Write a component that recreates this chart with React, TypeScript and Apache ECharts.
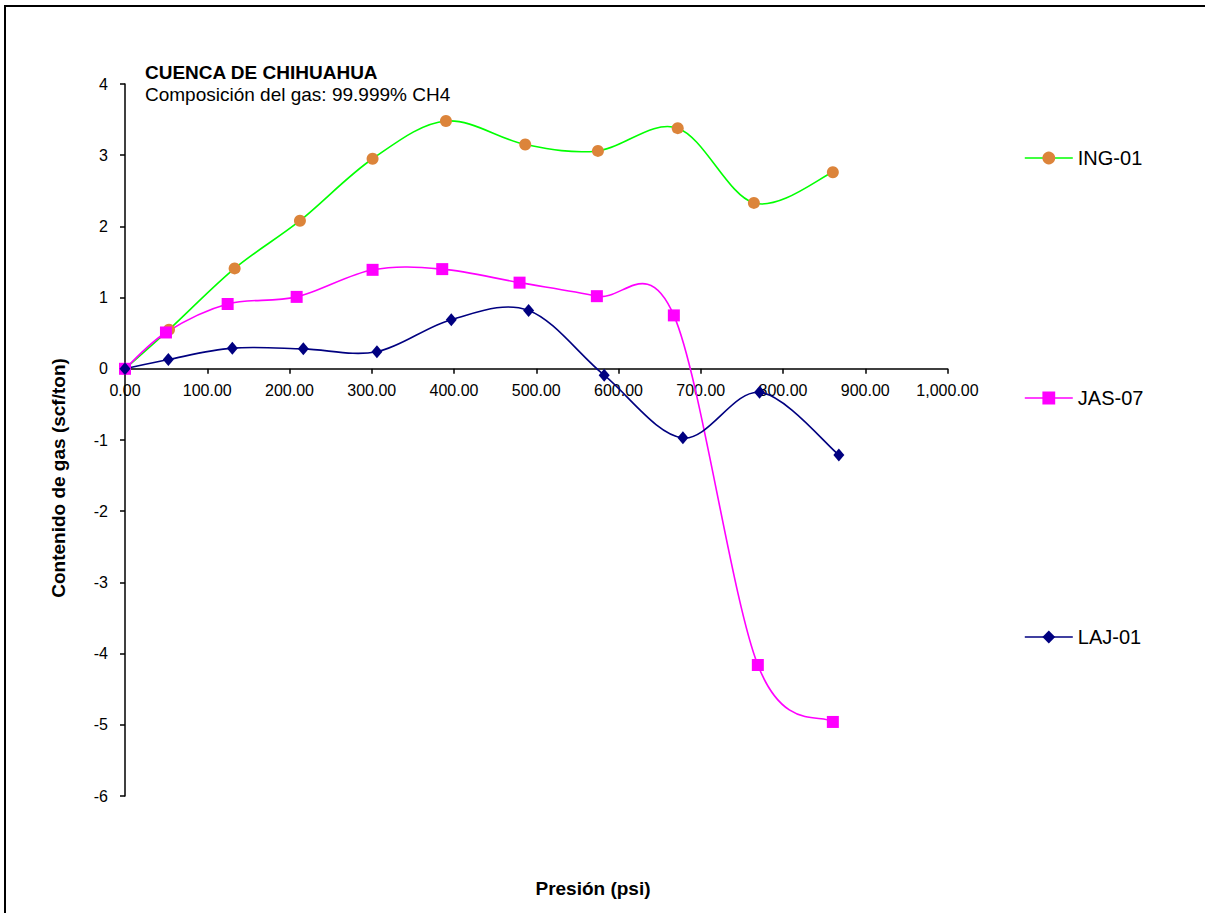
import React, { useEffect, useRef } from "react";
import * as echarts from "echarts";

const xTicks = [0, 100, 200, 300, 400, 500, 600, 700, 800, 900, 1000];
const yTicks = [-6, -5, -4, -3, -2, -1, 0, 1, 2, 3, 4];

const pressureING = [0, 53.5, 133.3, 212.7, 301, 390.2, 486.6, 575, 672, 764.6, 860.6];
const gasING = [0, 0.55, 1.41, 2.08, 2.95, 3.48, 3.15, 3.06, 3.38, 2.33, 2.76];

const pressureJAS = [0, 49.8, 124.8, 208.7, 301, 385.7, 479.7, 573.7, 667.3, 769.4, 860.6];
const gasJAS = [0, 0.51, 0.91, 1.01, 1.39, 1.4, 1.21, 1.02, 0.75, -4.16, -4.96];

const pressureLAJ = [0, 52.7, 130.5, 216.8, 306.3, 396.7, 490.7, 582.6, 678.3, 771.5, 867.9];
const gasLAJ = [0, 0.13, 0.29, 0.28, 0.24, 0.69, 0.82, -0.09, -0.97, -0.33, -1.21];

const seriesNames = ["ING-01", "JAS-07", "LAJ-01"];
const lineColors = ["#00ff00", "#ff00ff", "#000080"];
const markerColors = ["#dc843a", "#ff00ff", "#000080"];

const FONT = "'Liberation Sans', Arial, sans-serif";

function fmt(v: number) {
  return v.toLocaleString("en-US", { minimumFractionDigits: 2, maximumFractionDigits: 2 });
}

function pairs(xs: number[], ys: number[]) {
  return xs.map((x, i) => [x, ys[i]]);
}

// Smooth curve (Catmull-Rom style Bezier) drawn in pixel space via the chart's own coordinate system
function smoothCurve(xs: number[], ys: number[], color: string) {
  return (params: any, api: any) => {
    if (params.dataIndex !== 0) return null;
    const p = xs.map((x, i) => api.coord([x, ys[i]]));
    const n = p.length;
    let d = `M${p[0][0]},${p[0][1]}`;
    for (let i = 0; i < n - 1; i++) {
      const p0 = p[Math.max(i - 1, 0)];
      const p1 = p[i];
      const p2 = p[i + 1];
      const p3 = p[Math.min(i + 2, n - 1)];
      const c1x = p1[0] + (p2[0] - p0[0]) / 6;
      const c1y = p1[1] + (p2[1] - p0[1]) / 6;
      const c2x = p2[0] - (p3[0] - p1[0]) / 6;
      const c2y = p2[1] - (p3[1] - p1[1]) / 6;
      d += ` C${c1x},${c1y} ${c2x},${c2y} ${p2[0]},${p2[1]}`;
    }
    return {
      type: "path",
      shape: { pathData: d },
      style: { fill: "none", stroke: color, lineWidth: 1.6 },
      silent: true,
    };
  };
}

export default function App() {
  const ref = useRef<HTMLDivElement>(null);
  useEffect(() => {
    if (!ref.current) return;
    const chart = echarts.init(ref.current, null, { renderer: "svg" });
    const legendBase = {
      left: 1024,
      padding: 0,
      itemWidth: 48,
      itemHeight: 16,
      textStyle: { fontSize: 20, color: "#000", fontFamily: FONT },
      selectedMode: false,
    };
    const dataSets = [
      [pressureING, gasING],
      [pressureJAS, gasJAS],
      [pressureLAJ, gasLAJ],
    ];
    const symbols = ["circle", "rect", "diamond"];
    const symbolSizes: any[] = [12, 12, [11, 13]];
    const curveSeries = dataSets.map(([xs, ys], k) => ({
      type: "custom",
      xAxisIndex: 0,
      yAxisIndex: 0,
      z: 2,
      encode: { x: 0, y: 1 },
      data: pairs(xs, ys),
      renderItem: smoothCurve(xs, ys, lineColors[k]),
    }));
    const markerSeries = dataSets.map(([xs, ys], k) => ({
      name: seriesNames[k],
      type: "line",
      xAxisIndex: 0,
      yAxisIndex: 0,
      z: 3 + k,
      data: pairs(xs, ys),
      symbol: symbols[k],
      symbolSize: symbolSizes[k],
      lineStyle: { color: lineColors[k], width: 1.6, opacity: 0 },
      itemStyle: { color: markerColors[k] },
    }));
    const legendTops = [148, 388, 627];
    chart.setOption({
      animation: false,
      backgroundColor: "#fff",
      textStyle: { fontFamily: FONT },
      grid: [
        { left: 125, top: 84, width: 822.5, height: 712, containLabel: false },
        { left: 125, top: 84, width: 822.5, height: 284.7, containLabel: false },
      ],
      xAxis: [
        {
          type: "value",
          gridIndex: 0,
          min: xTicks[0],
          max: xTicks[xTicks.length - 1],
          interval: 100,
          axisLine: { onZero: true, lineStyle: { color: "#000", width: 1.5 } },
          axisTick: { show: true, inside: false, length: 5, lineStyle: { color: "#000", width: 1.5 } },
          axisLabel: { show: false },
          splitLine: { show: false },
        },
        {
          type: "value",
          gridIndex: 1,
          min: xTicks[0],
          max: xTicks[xTicks.length - 1],
          interval: 100,
          position: "bottom",
          axisLine: { show: false },
          axisTick: { show: false },
          axisLabel: { color: "#000", fontSize: 16, margin: 14, formatter: (v: number) => fmt(v), showMinLabel: true, showMaxLabel: true },
          splitLine: { show: false },
        },
      ],
      yAxis: [
        {
          type: "value",
          gridIndex: 0,
          min: yTicks[0],
          max: yTicks[yTicks.length - 1],
          interval: 1,
          axisLine: { show: true, onZero: false, lineStyle: { color: "#000", width: 1.5 } },
          axisTick: { show: true, inside: false, length: 5, lineStyle: { color: "#000", width: 1.5 } },
          axisLabel: { color: "#000", fontSize: 16, margin: 17 },
          splitLine: { show: false },
        },
        {
          type: "value",
          gridIndex: 1,
          min: 0,
          max: 1,
          show: false,
        },
      ],
      legend: seriesNames.map((name, k) => ({
        ...legendBase,
        top: legendTops[k],
        data: [{ name, lineStyle: { color: lineColors[k], width: 1.6, opacity: 1 } }],
      })),
      series: [...curveSeries, ...markerSeries],
      graphic: [
        {
          type: "rect",
          silent: true,
          shape: { x: 5, y: 6, width: 1300, height: 1000 },
          style: { fill: "none", stroke: "#000", lineWidth: 2 },
        },
        {
          type: "text",
          style: { x: 145, y: 72, text: "CUENCA DE CHIHUAHUA", font: `bold 19px ${FONT}`, fill: "#000", verticalAlign: "middle" },
        },
        {
          type: "text",
          style: { x: 145, y: 94, text: "Composición del gas: 99.999% CH4", font: `19px ${FONT}`, fill: "#000", verticalAlign: "middle" },
        },
        {
          type: "text",
          style: { x: 593, y: 888, text: "Presión (psi)", font: `bold 19px ${FONT}`, fill: "#000", align: "center", verticalAlign: "middle" },
        },
        {
          type: "text",
          x: 58,
          y: 478,
          rotation: Math.PI / 2,
          style: { x: 0, y: 0, text: "Contenido de gas (scf/ton)", font: `bold 19px ${FONT}`, fill: "#000", align: "center", verticalAlign: "middle" },
        },
      ],
    });
    return () => chart.dispose();
  }, []);
  return <div ref={ref} style={{ position: "absolute", left: 0, top: 0, width: 1205, height: 913 }} />;
}
